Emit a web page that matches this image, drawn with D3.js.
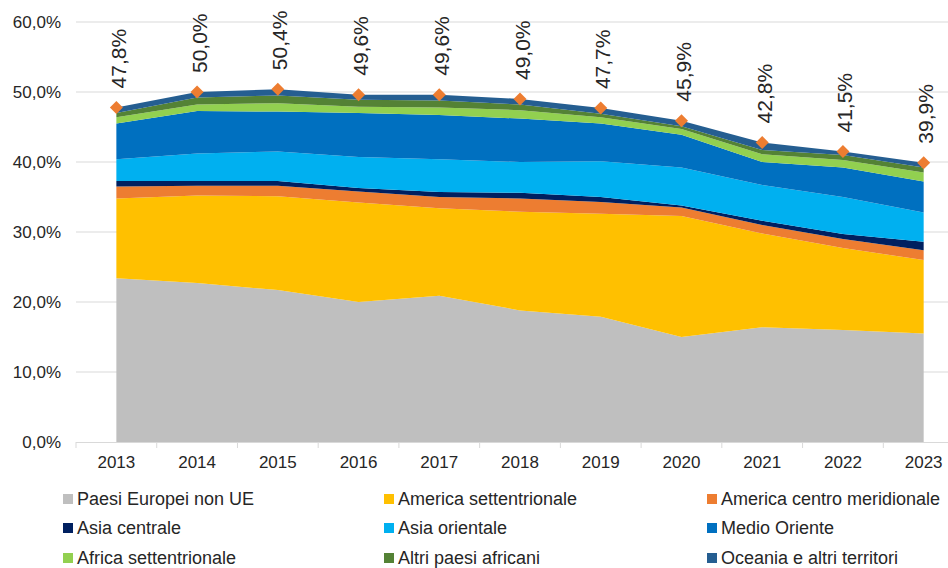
<!DOCTYPE html>
<html>
<head>
<meta charset="utf-8">
<script src="https://cdn.jsdelivr.net/npm/d3@7"></script>
<style>
  html, body { margin: 0; padding: 0; background: #fff; }
  svg { display: block; font-family: "Liberation Sans", Arial, sans-serif; }
</style>
</head>
<body>
<div id="chart"></div>
<script>
const years = [2013, 2014, 2015, 2016, 2017, 2018, 2019, 2020, 2021, 2022, 2023];

const paesiEuropei = [23.4, 22.7, 21.7, 20.0, 20.9, 18.8, 17.9, 15.0, 16.4, 16.0, 15.5];
const americaSett = [11.4, 12.5, 13.4, 14.2, 12.5, 14.1, 14.7, 17.3, 13.4, 11.7, 10.5];
const americaCentroMer = [1.7, 1.4, 1.5, 1.6, 1.6, 1.9, 1.7, 1.2, 1.2, 1.3, 1.4];
const asiaCentrale = [0.8, 0.7, 0.7, 0.5, 0.7, 0.8, 0.7, 0.3, 0.6, 0.7, 1.2];
const asiaOrientale = [3.1, 3.9, 4.2, 4.4, 4.7, 4.4, 5.1, 5.4, 5.1, 5.3, 4.2];
const medioOriente = [5.1, 6.1, 5.7, 6.3, 6.3, 6.2, 5.4, 4.7, 3.3, 4.2, 4.4];
const africaSett = [0.9, 0.9, 1.2, 0.9, 1.1, 1.2, 0.9, 0.8, 1.1, 1.1, 1.3];
const altriAfricani = [0.6, 1.0, 1.1, 1.0, 1.0, 0.8, 0.5, 0.4, 0.6, 0.7, 0.7];
const oceania = [0.8, 0.8, 0.9, 0.7, 0.8, 0.8, 0.8, 0.8, 1.1, 0.5, 0.7];

const totals = [47.8, 50.0, 50.4, 49.6, 49.6, 49.0, 47.7, 45.9, 42.8, 41.5, 39.9];
const yTicks = [0, 10, 20, 30, 40, 50, 60];

const series = [
  { key: "Paesi Europei non UE", values: paesiEuropei, color: "#bfbfbf" },
  { key: "America settentrionale", values: americaSett, color: "#ffc000" },
  { key: "America centro meridionale", values: americaCentroMer, color: "#ed7d31" },
  { key: "Asia centrale", values: asiaCentrale, color: "#002060" },
  { key: "Asia orientale", values: asiaOrientale, color: "#00b0f0" },
  { key: "Medio Oriente", values: medioOriente, color: "#0070c0" },
  { key: "Africa settentrionale", values: africaSett, color: "#92d050" },
  { key: "Altri paesi africani", values: altriAfricani, color: "#548235" },
  { key: "Oceania e altri territori", values: oceania, color: "#255e91" },
];

const width = 948;
const height = 568;
const step = 80.73;
const plotLeft = 76;

const table = years.map((year, i) => {
  const row = { year };
  series.forEach((s) => (row[s.key] = s.values[i]));
  return row;
});

const svg = d3
  .select("#chart")
  .append("svg")
  .attr("width", width)
  .attr("height", height)
  .attr("viewBox", `0 0 ${width} ${height}`);

const x = d3
  .scaleBand()
  .domain(years)
  .range([plotLeft, plotLeft + step * years.length])
  .padding(0);

const cx = (year) => x(year) + x.bandwidth() / 2;

const y = d3.scaleLinear().domain([0, 60]).range([442, 22]);

// gridlines
svg
  .append("g")
  .selectAll("line")
  .data(yTicks.filter((t) => t > 0))
  .enter()
  .append("line")
  .attr("x1", plotLeft)
  .attr("x2", width)
  .attr("y1", (t) => y(t))
  .attr("y2", (t) => y(t))
  .attr("stroke", "#d9d9d9")
  .attr("stroke-width", 1);

// stacked areas
const stacked = d3.stack().keys(series.map((s) => s.key))(table);

const area = d3
  .area()
  .x((d) => cx(d.data.year))
  .y0((d) => y(d[0]))
  .y1((d) => y(d[1]));

svg
  .append("g")
  .selectAll("path")
  .data(stacked)
  .enter()
  .append("path")
  .attr("d", area)
  .attr("fill", (d, i) => series[i].color);

// y axis labels
svg
  .append("g")
  .attr("transform", `translate(61, 0)`)
  .call(d3.axisLeft(y).tickValues(yTicks).tickSize(0).tickPadding(0).tickFormat((t) => d3.format(".1f")(t).replace(".", ",") + "%"))
  .call((g) => g.select(".domain").remove())
  .call((g) => g.selectAll("text").attr("fill", "#262626").attr("font-size", 17).attr("font-family", "Liberation Sans, Arial, sans-serif"));

// x axis
const xAxis = svg.append("g").attr("transform", `translate(0, ${y(0)})`);

xAxis
  .append("line")
  .attr("x1", plotLeft)
  .attr("x2", width)
  .attr("y1", 0.5)
  .attr("y2", 0.5)
  .attr("stroke", "#d9d9d9");

xAxis
  .selectAll("line.tick")
  .data(years)
  .enter()
  .append("line")
  .attr("class", "tick")
  .attr("x1", (d) => x(d))
  .attr("x2", (d) => x(d))
  .attr("y1", 0)
  .attr("y2", 6)
  .attr("stroke", "#d9d9d9");

xAxis
  .selectAll("text")
  .data(years)
  .enter()
  .append("text")
  .attr("x", (d) => cx(d))
  .attr("y", 20)
  .attr("text-anchor", "middle")
  .attr("dominant-baseline", "central")
  .attr("fill", "#262626")
  .attr("font-size", 17)
  .text((d) => d);

// total markers
svg
  .append("g")
  .selectAll("rect")
  .data(years)
  .enter()
  .append("rect")
  .attr("x", -4.6)
  .attr("y", -4.6)
  .attr("width", 9.2)
  .attr("height", 9.2)
  .attr("transform", (d, i) => `translate(${cx(d)}, ${y(totals[i])}) rotate(45)`)
  .attr("fill", "#ed7d31");

// total labels
svg
  .append("g")
  .selectAll("text")
  .data(years)
  .enter()
  .append("text")
  .attr("transform", (d, i) => `translate(${cx(d) + 2}, ${y(totals[i]) - 19}) rotate(-90)`)
  .attr("dominant-baseline", "central")
  .attr("fill", "#262626")
  .attr("font-size", 21)
  .text((d, i) => d3.format(".1f")(totals[i]).replace(".", ",") + "%");

// legend
const legendCols = [63, 384, 707];
const legendRows = [499, 528, 558];

const legend = svg
  .append("g")
  .selectAll("g")
  .data(series)
  .enter()
  .append("g")
  .attr("transform", (d, i) => `translate(${legendCols[i % 3]}, ${legendRows[Math.floor(i / 3)]})`);

legend
  .append("rect")
  .attr("x", 0)
  .attr("y", -5)
  .attr("width", 10)
  .attr("height", 10)
  .attr("fill", (d) => d.color);

legend
  .append("text")
  .attr("x", 14)
  .attr("y", 0)
  .attr("dominant-baseline", "central")
  .attr("fill", "#262626")
  .attr("font-size", 18)
  .text((d) => d.key);
</script>
</body>
</html>
